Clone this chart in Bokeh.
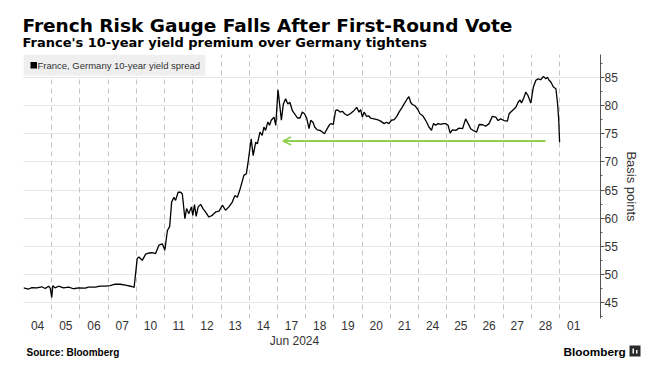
from bokeh.plotting import figure
from bokeh.layouts import column
from bokeh.models import (Range1d, FixedTicker, SingleIntervalTicker, Label, Arrow,
                          OpenHead, BoxAnnotation)
from bokeh.embed import file_html
from bokeh.resources import INLINE

# ---------------- data ----------------
day_labels = ["04", "05", "06", "07", "10", "11", "12", "13", "14", "17",
              "18", "19", "20", "21", "24", "25", "26", "27", "28", "01"]
month_label = "Jun 2024"
series_name = "France, Germany 10-year yield spread"
title_text = "French Risk Gauge Falls After First-Round Vote"
subtitle_text = "France's 10-year yield premium over Germany tightens"
source_text = "Source: Bloomberg"
y_label = "Basis points"

# position in trading days since open of Jun 04 (weekends removed)
day_pos = [
    0.00, 0.18, 0.30, 0.47, 0.65, 0.77, 0.89, 0.95, 1.00, 1.04, 1.12, 1.24, 1.42, 1.60,
    1.77, 1.95, 2.19, 2.30, 2.54, 2.72, 2.90, 3.07, 3.25, 3.43, 3.61, 3.84, 3.92,
    4.03, 4.09, 4.21, 4.33, 4.44, 4.56, 4.68, 4.80, 4.92, 5.01, 5.10, 5.18, 5.25, 5.33,
    5.39, 5.48, 5.57, 5.63, 5.72, 5.78, 5.86, 5.95, 6.00, 6.06, 6.12, 6.19, 6.28, 6.36,
    6.45, 6.57, 6.69, 6.81, 6.93, 7.05, 7.16, 7.28, 7.40, 7.49, 7.58, 7.66, 7.75, 7.81,
    7.90, 7.97, 8.03, 8.07, 8.14, 8.23, 8.29, 8.38, 8.46, 8.52, 8.58, 8.66, 8.72, 8.78,
    8.88, 8.94, 9.02, 9.09, 9.14, 9.21, 9.29, 9.37, 9.44, 9.53, 9.61, 9.71, 9.80, 9.88,
    9.96, 10.04, 10.12, 10.18, 10.26, 10.32, 10.41, 10.51, 10.59, 10.67, 10.74, 10.83,
    10.89, 10.98, 11.06, 11.12, 11.22, 11.30, 11.38, 11.48, 11.60, 11.71, 11.81, 11.89,
    11.95, 12.01, 12.07, 12.16, 12.23, 12.30, 12.42, 12.54, 12.66, 12.78, 12.87, 12.95,
    13.04, 13.14, 13.23, 13.31, 13.39, 13.49, 13.58, 13.66, 13.72, 13.78, 13.87, 13.96,
    14.05, 14.14, 14.22, 14.29, 14.37, 14.46, 14.53, 14.61, 14.69, 14.79, 14.88, 14.96,
    15.05, 15.12, 15.20, 15.32, 15.44, 15.56, 15.67, 15.76, 15.85, 15.97, 16.06, 16.15,
    16.27, 16.38, 16.50, 16.62, 16.74, 16.82, 16.91, 17.03, 17.15, 17.21, 17.33, 17.45,
    17.53, 17.60, 17.65, 17.74, 17.80, 17.88, 17.98, 18.07, 18.16, 18.24, 18.33, 18.43,
    18.51, 18.57, 18.63, 18.69, 18.78, 18.87, 18.93, 18.97, 19.00,
]
spread_bp = [
    47.6, 47.4, 47.65, 47.6, 47.8, 47.5, 47.9, 47.5, 45.9, 48.0, 47.6, 47.9, 47.6, 47.75,
    47.45, 47.6, 47.55, 47.75, 47.75, 47.9, 47.9, 48.0, 48.25, 48.25, 48.1, 47.85, 47.7,
    52.8, 53.1, 52.5, 53.6, 53.8, 53.85, 53.7, 55.2, 55.45, 54.3, 57.8, 58.5, 62.85, 63.7,
    63.15, 64.6, 64.6, 64.3, 59.9, 61.7, 60.8, 62.0, 60.5, 62.4, 60.3, 62.0, 62.45, 61.7,
    61.1, 60.2, 60.5, 61.1, 61.25, 62.3, 61.4, 62.0, 62.85, 64.0, 63.7, 64.9, 66.5, 67.6,
    67.9, 70.3, 72.6, 74.1, 71.1, 73.5, 73.2, 75.3, 74.7, 76.2, 75.6, 77.1, 76.5, 77.4,
    77.95, 76.5, 82.8, 79.7, 77.4, 80.3, 81.2, 80.3, 80.6, 79.1, 78.55, 77.8, 77.8, 78.85,
    78.55, 77.7, 75.9, 77.4, 77.05, 76.2, 75.7, 75.6, 75.3, 75.0, 75.7, 76.5,
    76.8, 76.65, 79.1, 79.25, 78.85, 79.0, 78.55, 78.25, 78.65, 79.1, 79.7, 78.85,
    79.3, 77.95, 78.85, 78.1, 78.2, 77.8, 77.65, 77.5, 77.25, 76.8, 77.05, 76.8,
    77.4, 77.5, 78.1, 78.85, 79.45, 80.3, 81.05, 81.6, 80.6, 80.2, 80.0, 79.45,
    78.55, 78.25, 77.65, 77.05, 76.2, 75.6, 76.8, 76.5, 76.8, 76.65, 76.8, 76.8,
    76.5, 75.1, 75.7, 75.6, 76.0, 75.9, 77.65, 76.8, 75.9, 75.5, 75.3, 76.65,
    76.6, 76.35, 76.8, 78.1, 77.95, 77.35, 77.65, 77.35, 77.25, 78.55, 79.15, 79.7,
    80.6, 81.0, 80.45, 81.5, 82.4, 81.8, 80.45, 83.3, 84.5, 84.75, 84.6, 85.2,
    84.75, 85.05, 84.5, 84.2, 83.3, 83.0, 80.3, 77.4, 73.5,
]

# green annotation arrow (level of latest reading, pointing back to mid-June)
arrow_level = 73.7
arrow_from_day = 18.5
arrow_to_day = 9.2

# ---------------- layout constants ----------------
W = 666
HDR_H, MAIN_H, FTR_H = 54, 280, 38
B_LEFT, B_RIGHT, B_TOP, B_BOTTOM = 23, 66, 0, 16
X_START, X_END = 0.0, 20.45
Y_START, Y_END = 42.16, 89.09
FW = W - B_LEFT - B_RIGHT
FH = MAIN_H - B_TOP - B_BOTTOM

FONT = "Liberation Sans"
TFONT = "DejaVu Sans"
GREEN = "#8fd14f"
TXT = "#333333"


def xd(px):
    """page x pixel -> main-chart data x"""
    return X_START + (px - B_LEFT) / FW * (X_END - X_START)


def yd(py):
    """page y pixel -> main-chart data y"""
    return Y_END - (py - HDR_H - B_TOP) / FH * (Y_END - Y_START)


def no_align(f):
    if "frame_align" in f.properties():
        f.frame_align = False
    return f


def blank(h):
    f = figure(width=W, height=h, x_range=Range1d(0, W), y_range=Range1d(h, 0),
               output_backend="svg", toolbar_location=None, min_border=0,
               min_border_left=0, min_border_right=0, min_border_top=0, min_border_bottom=0,
               x_axis_location=None, y_axis_location=None)
    f.grid.visible = False
    f.outline_line_color = None
    return no_align(f)


# ---------------- header ----------------
hdr = blank(HDR_H)
hdr.add_layout(Label(x=22, y=24.5, text=title_text, text_font=TFONT, text_font_style="bold",
                     text_font_size="18.5px", text_color="black",
                     text_baseline="middle", text_align="left"))
hdr.add_layout(Label(x=22, y=42, text=subtitle_text, text_font=TFONT, text_font_style="bold",
                     text_font_size="13px", text_color="black",
                     text_baseline="middle", text_align="left"))

# ---------------- main chart ----------------
p = figure(width=W, height=MAIN_H, x_range=Range1d(X_START, X_END),
           y_range=Range1d(Y_START, Y_END), output_backend="svg", toolbar_location=None,
           y_axis_location="right", min_border_left=B_LEFT, min_border_right=B_RIGHT,
           min_border_top=B_TOP, min_border_bottom=B_BOTTOM)
no_align(p)
p.outline_line_color = None

p.xgrid[0].ticker = FixedTicker(ticks=list(range(len(day_labels))))
p.xgrid.grid_line_color = "#c4c4c4"
p.xgrid.grid_line_dash = "5 4"
p.ygrid.grid_line_color = "#cfcfcf"
p.ygrid.grid_line_dash = "1 1"

xa = p.xaxis[0]
xa.ticker = FixedTicker(ticks=[i + 0.5 for i in range(len(day_labels))])
xa.major_label_overrides = {i + 0.5: lab for i, lab in enumerate(day_labels)}
xa.axis_line_color = None
xa.major_tick_line_color = None
xa.minor_tick_line_color = None
xa.major_tick_out = 0
xa.major_tick_in = 0
xa.minor_tick_out = 0
xa.minor_tick_in = 0
xa.major_label_standoff = 2
xa.major_label_text_font = FONT
xa.major_label_text_font_size = "12px"
xa.major_label_text_color = TXT

ya = p.yaxis[0]
ya.ticker = SingleIntervalTicker(interval=5, num_minor_ticks=2)
ya.axis_line_color = "#555555"
ya.major_tick_line_color = "#555555"
ya.minor_tick_line_color = "#555555"
ya.major_tick_out = 4
ya.major_tick_in = 0
ya.minor_tick_out = 2
ya.minor_tick_in = 0
ya.major_label_standoff = 0
ya.major_label_text_font = FONT
ya.major_label_text_font_size = "12px"
ya.major_label_text_color = TXT
ya.axis_label = y_label
ya.axis_label_text_font = FONT
ya.axis_label_text_font_size = "13px"
ya.axis_label_text_font_style = "normal"
ya.axis_label_text_color = TXT
ya.axis_label_standoff = 3

p.line(day_pos, spread_bp, line_color="black", line_width=1.3)

# legend box (manual)
p.add_layout(BoxAnnotation(left=X_START, right=xd(205), top=Y_END, bottom=yd(75),
                           fill_color="#efefef", fill_alpha=1, line_color=None))
p.add_layout(BoxAnnotation(left=xd(30), right=xd(36.5), top=yd(61.5), bottom=yd(68),
                           fill_color="black", fill_alpha=1, line_color=None))
p.add_layout(Label(x=xd(37), y=yd(64.5), text=series_name, text_font=FONT,
                   text_font_size="9.5px", text_color=TXT, text_baseline="middle",
                   text_align="left"))

p.add_layout(Arrow(end=OpenHead(size=8, line_color=GREEN, line_width=1.6),
                   x_start=arrow_from_day, y_start=arrow_level,
                   x_end=arrow_to_day, y_end=arrow_level,
                   line_color=GREEN, line_width=2))

# ---------------- footer ----------------
ftr = blank(FTR_H)
ftr.add_layout(Label(x=294, y=6, text=month_label, text_font=FONT, text_font_size="12px",
                     text_color=TXT, text_baseline="middle", text_align="center"))
ftr.add_layout(Label(x=26, y=18, text=source_text, text_font=FONT, text_font_style="bold",
                     text_font_size="10px", text_color="black",
                     text_baseline="middle", text_align="left"))
ftr.add_layout(Label(x=563, y=17, text="Bloomberg", text_font=FONT, text_font_style="bold",
                     text_font_size="11.8px", text_color="black",
                     text_baseline="middle", text_align="left"))
ftr.quad(left=[629], right=[640], top=[11], bottom=[22], fill_color="#2b2b2b",
         line_color=None)
ftr.quad(left=[632, 635.5], right=[633.5, 637], top=[14, 15.5], bottom=[19, 19],
         fill_color="white", line_color=None)

layout = column(hdr, p, ftr, spacing=0)
open("out.html", "w").write(file_html(layout, INLINE))
